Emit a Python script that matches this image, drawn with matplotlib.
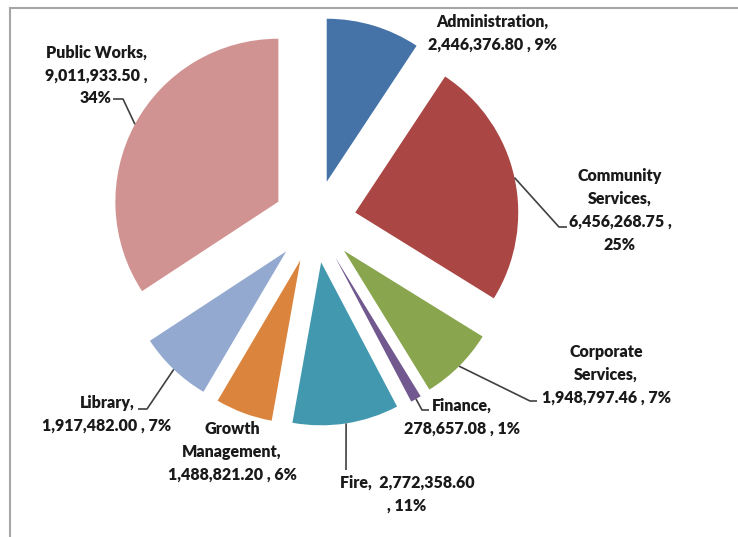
import numpy as np
import matplotlib
matplotlib.use("Agg")
import matplotlib.pyplot as plt
from matplotlib.lines import Line2D

# data
departments = ["Administration", "Community Services", "Corporate Services", "Finance",
               "Fire", "Growth Management", "Library", "Public Works"]
amounts = [2446376.80, 6456268.75, 1948797.46, 278657.08,
           2772358.60, 1488821.20, 1917482.00, 9011933.50]
colors = ["#4572A7", "#AA4643", "#89A54E", "#71588F",
          "#4198AF", "#DB843D", "#93A9CF", "#D19392"]

# how each label wraps in the original ({n} name, {v} value, {p} percent)
label_fmt = ["{n},\n{v} , {p}%",
             "Community\nServices,\n{v} ,\n{p}%",
             "Corporate\nServices,\n{v} , {p}%",
             "{n},\n{v} , {p}%",
             "{n},  {v}\n, {p}%",
             "Growth\nManagement,\n{v} , {p}%",
             "{n},\n{v} , {p}%",
             "{n},\n{v} ,\n{p}%"]

# layout (pixel coords, y measured from top)
W, H = 738, 537
R = 163
label_pos = [(492, 33.5), (620, 210.5), (606, 375), (462, 417),
             (407, 494.5), (232, 452), (107, 414), (96, 75.5)]
# leader elbow and end points (None = no leader)
leaders = [None, [(559, 227), (567, 227)], [(530, 401), (537, 401)],
           [(422, 410), (429, 410)], [(346, 470)], None,
           [(147, 409), (138, 409)], [(123, 99), (113, 99)]]

plt.rcParams['font.family'] = ['Lato', 'DejaVu Sans']

fig = plt.figure(figsize=(W / 100, H / 100), dpi=100)
ax = fig.add_axes([0, 0, 1, 1])

total = sum(amounts)
# matplotlib's explode is an absolute offset, so scale it by the radius
wedges, _ = ax.pie(amounts, colors=colors, startangle=90, counterclock=False,
                   explode=[0.254 * R] * len(amounts), radius=R,
                   center=(314.8, H - 221.4),
                   wedgeprops=dict(linewidth=0))

ax.set_xlim(0, W)
ax.set_ylim(0, H)
ax.set_aspect('equal')
ax.axis('off')

for i, w in enumerate(wedges):
    pct = int(round(amounts[i] / total * 100))
    txt = label_fmt[i].format(n=departments[i], v=f"{amounts[i]:,.2f}", p=pct)
    x, y = label_pos[i]
    ax.text(x, H - y, txt, ha='center', va='center', fontsize=11.5,
            fontweight='heavy', color='#1a1a1a', linespacing=1.53)
    if leaders[i] is not None:
        ang = np.deg2rad((w.theta1 + w.theta2) / 2)
        cx, cy = w.center
        px = [cx + w.r * np.cos(ang)] + [p[0] for p in leaders[i]]
        py = [cy + w.r * np.sin(ang)] + [H - p[1] for p in leaders[i]]
        ax.plot(px, py, color='#404040', lw=1.2, solid_capstyle='butt')

# chart area border (top and left visible)
fig.add_artist(Line2D([10 / W, 1], [1 - 8 / H, 1 - 8 / H], color='#A6A6A6', lw=1.5))
fig.add_artist(Line2D([10 / W, 10 / W], [0, 1 - 8 / H], color='#A6A6A6', lw=1.5))

fig.savefig("out.png", dpi=100)
